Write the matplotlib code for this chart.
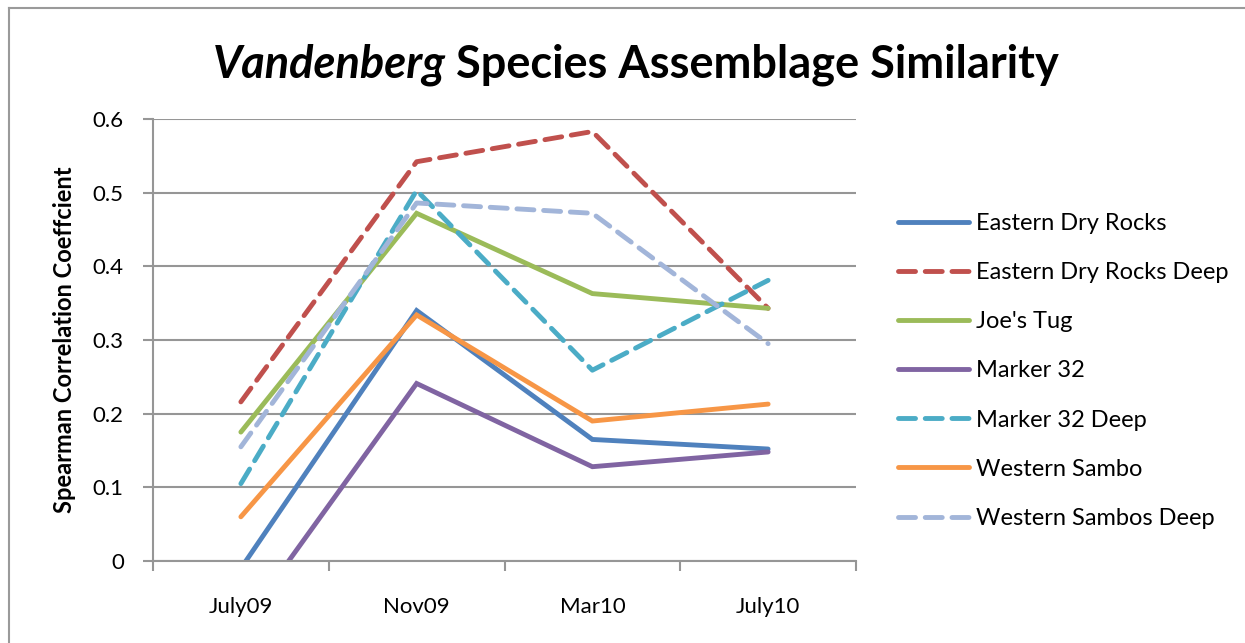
import numpy as np
import matplotlib.pyplot as plt
from matplotlib.lines import Line2D

plt.rcParams['font.family'] = ['Lato', 'DejaVu Sans']

# data
periods = ['July09', 'Nov09', 'Mar10', 'July10']
eastern_dry_rocks = [-0.01, 0.340, 0.165, 0.152]
eastern_dry_rocks_deep = [0.216, 0.542, 0.583, 0.343]
joes_tug = [0.175, 0.472, 0.363, 0.343]
marker_32 = [-0.09, 0.241, 0.128, 0.148]
marker_32_deep = [0.105, 0.503, 0.259, 0.381]
western_sambo = [0.060, 0.334, 0.190, 0.213]
western_sambos_deep = [0.155, 0.486, 0.472, 0.295]

names = ['Eastern Dry Rocks', 'Eastern Dry Rocks Deep', "Joe's Tug", 'Marker 32',
         'Marker 32 Deep', 'Western Sambo', 'Western Sambos Deep']
series = [eastern_dry_rocks, eastern_dry_rocks_deep, joes_tug, marker_32,
          marker_32_deep, western_sambo, western_sambos_deep]
colors = ['#4F81BD', '#C0504D', '#9BBB59', '#8064A2', '#4BACC6', '#F79646', '#A2B5D9']
dashed = [False, True, False, False, True, False, True]

W, H = 1245, 643
fig = plt.figure(figsize=(W / 100, H / 100), dpi=100)
ax = fig.add_axes([153 / W, 1 - 561 / H, (856 - 153) / W, (561 - 119) / H])

x = np.arange(len(periods))
for vals, name, c, d in zip(series, names, colors, dashed):
    kw = dict(dashes=(3.5, 2.0)) if d else {}
    ax.plot(x, vals, color=c, lw=3.5, label=name, solid_capstyle='round',
            dash_capstyle='round', solid_joinstyle='miter', clip_on=True, **kw)

ax.set_xlim(-0.5, 3.5)
ax.set_ylim(0, 0.6)
ax.set_yticks(np.arange(0, 0.61, 0.1))
ax.set_yticklabels(['0', '0.1', '0.2', '0.3', '0.4', '0.5', '0.6'])
ax.set_xticks(x)
ax.set_xticklabels(periods)
ax.set_xticks(np.arange(-0.5, 3.6, 1), minor=True)
ax.tick_params(axis='x', which='major', length=0, pad=26, labelsize=16)
ax.tick_params(axis='x', which='minor', length=7, width=1.5, color='#969696', direction='out')
ax.tick_params(axis='y', length=7, width=1.5, color='#969696', pad=14, labelsize=16)
ax.yaxis.grid(True, color='#969696', lw=1.5)
ax.set_axisbelow(True)
for s in ['top', 'right']:
    ax.spines[s].set_visible(False)
for s in ['left', 'bottom']:
    ax.spines[s].set_color('#969696')
    ax.spines[s].set_linewidth(1.5)

ax.set_ylabel('Spearman Correlation Coeffcient', fontsize=17, fontweight='bold', labelpad=12)

t1 = fig.text(213 / W, 1 - 65 / H, 'Vandenberg', fontsize=32.5, fontweight='bold',
              fontstyle='italic', ha='left', va='center')
fig.canvas.draw()
bb = t1.get_window_extent()
fig.text((bb.x1 + 10) / W, 1 - 65 / H, 'Species Assemblage Similarity', fontsize=32.5,
         fontweight='bold', ha='left', va='center')

leg = ax.legend(loc='center left', bbox_to_anchor=(877 / W, 1 - 371 / H),
                bbox_transform=fig.transFigure, frameon=False, fontsize=17,
                handlelength=3.0, handletextpad=0.3, labelspacing=1.19)

# chart area border
fig.add_artist(Line2D([9 / W, 9 / W], [0, 1 - 8 / H], color='#9a9a9a', lw=1.5))
fig.add_artist(Line2D([9 / W, 1], [1 - 8 / H, 1 - 8 / H], color='#9a9a9a', lw=1.5))

fig.savefig('out.png', dpi=100)
